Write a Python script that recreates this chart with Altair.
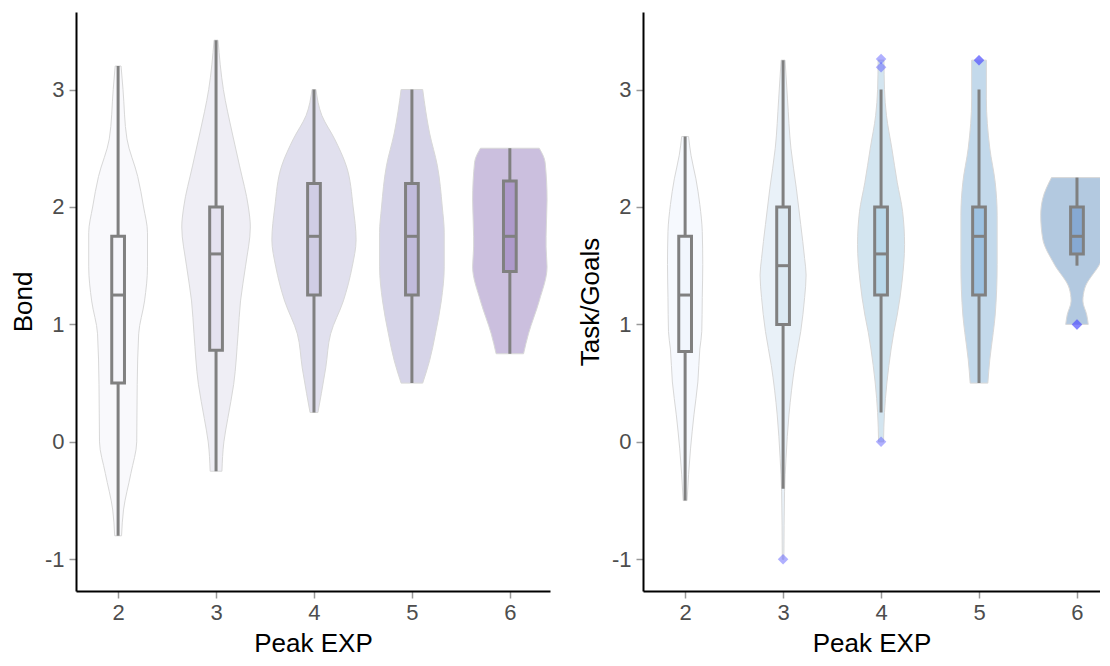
import altair as alt
import pandas as pd

GROUPS = [2, 3, 4, 5, 6]

# ---------- Bond violin profiles (y value, half-width in x units) ----------
BOND_Y_2 = [-0.8, -0.58, -0.27, 0.0, 0.49, 0.92, 1.2, 1.49, 1.78, 2.0, 2.26, 2.58, 3.0, 3.2]
BOND_W_2 = [0.035, 0.055, 0.13, 0.19, 0.195, 0.21, 0.27, 0.30, 0.30, 0.26, 0.20, 0.09, 0.05, 0.03]
BOND_Y_3 = [-0.25, 0.0, 0.2, 0.49, 0.92, 1.2, 1.49, 1.83, 2.0, 2.35, 2.63, 3.0, 3.42]
BOND_W_3 = [0.06, 0.08, 0.12, 0.18, 0.225, 0.25, 0.30, 0.35, 0.33, 0.24, 0.165, 0.075, 0.02]
BOND_Y_4 = [0.25, 0.41, 0.63, 0.92, 1.2, 1.49, 1.72, 2.0, 2.35, 2.58, 2.78, 3.0]
BOND_W_4 = [0.04, 0.075, 0.12, 0.17, 0.30, 0.39, 0.43, 0.40, 0.33, 0.21, 0.08, 0.02]
BOND_Y_5 = [0.5, 0.69, 0.92, 1.2, 1.49, 1.78, 2.0, 2.35, 2.63, 3.0]
BOND_W_5 = [0.11, 0.18, 0.24, 0.30, 0.33, 0.33, 0.31, 0.26, 0.18, 0.11]
BOND_Y_6 = [0.75, 0.92, 1.2, 1.49, 1.66, 1.75, 2.06, 2.38, 2.5]
BOND_W_6 = [0.14, 0.19, 0.30, 0.38, 0.37, 0.37, 0.38, 0.36, 0.30]

# ---------- Task/Goals violin profiles ----------
TASK_Y_2 = [-0.5, -0.28, -0.06, 0.23, 0.51, 0.79, 0.94, 1.23, 1.51, 1.79, 2.02, 2.24, 2.44, 2.6]
TASK_W_2 = [0.02, 0.035, 0.055, 0.09, 0.13, 0.15, 0.17, 0.175, 0.18, 0.175, 0.15, 0.11, 0.06, 0.035]
TASK_Y_3 = [-1.0, -0.42, -0.14, 0.23, 0.65, 0.94, 1.23, 1.42, 1.56, 1.85, 2.16, 2.5, 2.92, 3.25]
TASK_W_3 = [0.008, 0.015, 0.03, 0.06, 0.12, 0.18, 0.22, 0.235, 0.22, 0.18, 0.135, 0.08, 0.045, 0.02]
TASK_Y_4 = [0.0, 0.25, 0.37, 0.65, 0.93, 1.08, 1.37, 1.68, 1.96, 2.21, 2.5, 2.78, 3.0, 3.25]
TASK_W_4 = [0.025, 0.035, 0.045, 0.08, 0.13, 0.165, 0.215, 0.24, 0.22, 0.165, 0.11, 0.055, 0.035, 0.03]
TASK_Y_5 = [0.5, 0.70, 0.93, 1.08, 1.51, 1.93, 2.21, 2.5, 2.92, 3.25]
TASK_W_5 = [0.09, 0.11, 0.145, 0.165, 0.185, 0.185, 0.165, 0.11, 0.075, 0.075]
TASK_Y_6 = [1.0, 1.08, 1.2, 1.31, 1.51, 1.73, 1.93, 2.07, 2.25]
TASK_W_6 = [0.115, 0.10, 0.06, 0.08, 0.23, 0.35, 0.37, 0.35, 0.26]

# ---------- Box statistics ----------
BOND_LO = [-0.8, -0.25, 0.25, 0.5, 0.75]
BOND_Q1 = [0.5, 0.78, 1.25, 1.25, 1.45]
BOND_MED = [1.25, 1.6, 1.75, 1.75, 1.75]
BOND_Q3 = [1.75, 2.0, 2.2, 2.2, 2.22]
BOND_HI = [3.2, 3.42, 3.0, 3.0, 2.5]

TASK_LO = [-0.5, -0.4, 0.25, 0.5, 1.5]
TASK_Q1 = [0.77, 1.0, 1.25, 1.25, 1.6]
TASK_MED = [1.25, 1.5, 1.6, 1.75, 1.75]
TASK_Q3 = [1.75, 2.0, 2.0, 2.0, 2.0]
TASK_HI = [2.6, 3.25, 3.0, 3.0, 2.25]

TASK_OUT_G = [3, 4, 4, 4, 5, 5, 6, 6]
TASK_OUT_Y = [-1.0, 0.0, 3.19, 3.26, 3.25, 3.25, 1.0, 1.0]

BOND_FILL = ["#F9F9FC", "#EFEEF5", "#E1E0EE", "#D6D4E8", "#CBBFDE"]
BOND_BOX = ["#F5F5FA", "#E4E2EF", "#D0CDE5", "#C1BBDC", "#AE9ACB"]
TASK_FILL = ["#F6F9FE", "#E9F1F8", "#D3E5F0", "#C3D9EB", "#B3C9E0"]
TASK_BOX = ["#F1F6FD", "#DCE9F3", "#B9D8EA", "#9DC2E2", "#86A9D3"]

BOX_HW = 0.065
GREY = "#808080"


def violin_df(ys_list, ws_list):
    rows = []
    for g, ys, ws in zip(GROUPS, ys_list, ws_list):
        for y, w in zip(ys, ws):
            rows.append({"group": g, "y": y, "hw": w})
    return pd.DataFrame(rows)


def box_df(lo, q1, med, q3, hi):
    return pd.DataFrame({"group": GROUPS, "lo": lo, "q1": q1, "med": med, "q3": q3, "hi": hi})


def panel(vdf, bdf, odf, title, fills, boxfills, xmax, width):
    xs = alt.Scale(domain=[1.57, xmax], zero=False, nice=False)
    ys = alt.Scale(domain=[-1.27, 3.66], zero=False, nice=False)
    xaxis = alt.Axis(values=GROUPS, labelExpr="'' + datum.value", title="Peak EXP", grid=False)
    yaxis = alt.Axis(values=[-1, 0, 1, 2, 3], labelExpr="'' + datum.value", title=title,
                     grid=False, titlePadding=8)

    violin = alt.Chart(vdf).transform_calculate(
        xl="datum.group - datum.hw", xr="datum.group + datum.hw"
    ).mark_area(orient="horizontal", interpolate="monotone", stroke="#D8D8D8",
                strokeWidth=1, clip=True).encode(
        y=alt.Y("y:Q", scale=ys, axis=yaxis),
        x=alt.X("xl:Q", scale=xs, axis=xaxis),
        x2="xr:Q",
        fill=alt.Fill("group:N", scale=alt.Scale(domain=GROUPS, range=fills), legend=None),
    )

    base = alt.Chart(bdf).transform_calculate(
        bl="datum.group - %f" % BOX_HW, br="datum.group + %f" % BOX_HW
    )
    whisker = base.mark_rule(color=GREY, strokeWidth=3, clip=True).encode(
        x=alt.X("group:Q", scale=xs, axis=xaxis),
        y=alt.Y("lo:Q", scale=ys, axis=yaxis),
        y2="hi:Q",
    )
    box = base.mark_rect(stroke=GREY, strokeWidth=3, clip=True).encode(
        x=alt.X("bl:Q", scale=xs, axis=xaxis),
        x2="br:Q",
        y=alt.Y("q1:Q", scale=ys, axis=yaxis),
        y2="q3:Q",
        fill=alt.Fill("group:N", scale=alt.Scale(domain=GROUPS, range=boxfills), legend=None),
    )
    median = base.mark_rule(color=GREY, strokeWidth=3, clip=True).encode(
        x=alt.X("bl:Q", scale=xs, axis=xaxis),
        x2="br:Q",
        y=alt.Y("med:Q", scale=ys, axis=yaxis),
    )
    layers = [violin, whisker, box, median]
    if odf is not None:
        pts = alt.Chart(odf).mark_point(shape="diamond", filled=True, color="#5050FF",
                                        opacity=0.45, size=110, clip=True).encode(
            x=alt.X("group:Q", scale=xs, axis=xaxis),
            y=alt.Y("y:Q", scale=ys, axis=yaxis),
        )
        layers.append(pts)
    return alt.layer(*layers).resolve_scale(fill="independent").properties(width=width, height=579)


bond_v = violin_df([BOND_Y_2, BOND_Y_3, BOND_Y_4, BOND_Y_5, BOND_Y_6],
                   [BOND_W_2, BOND_W_3, BOND_W_4, BOND_W_5, BOND_W_6])
task_v = violin_df([TASK_Y_2, TASK_Y_3, TASK_Y_4, TASK_Y_5, TASK_Y_6],
                   [TASK_W_2, TASK_W_3, TASK_W_4, TASK_W_5, TASK_W_6])
bond_b = box_df(BOND_LO, BOND_Q1, BOND_MED, BOND_Q3, BOND_HI)
task_b = box_df(TASK_LO, TASK_Q1, TASK_MED, TASK_Q3, TASK_HI)
task_o = pd.DataFrame({"group": TASK_OUT_G, "y": TASK_OUT_Y})

left = panel(bond_v, bond_b, None, "Bond", BOND_FILL, BOND_BOX, 6.41, 474)
right = panel(task_v, task_b, task_o, "Task/Goals", TASK_FILL, TASK_BOX, 6.235, 457)

chart = alt.hconcat(left, right, spacing=27).configure(
    padding={"left": 2, "top": 4, "right": 0, "bottom": 0},
    font="Liberation Sans",
).configure_view(stroke=None).configure_axis(
    labelFont="Liberation Sans", labelFontSize=22, labelColor="#4D4D4D",
    titleFont="Liberation Sans", titleFontSize=26, titleFontWeight="normal",
    titleColor="#000000", domainColor="#000000", domainWidth=2,
    tickColor="#999999", tickSize=7, tickWidth=1.5, labelPadding=5,
).configure_axisX(titlePadding=7, labelPadding=4)

chart.save("out.html", embed_options={"renderer": "svg", "actions": False})
